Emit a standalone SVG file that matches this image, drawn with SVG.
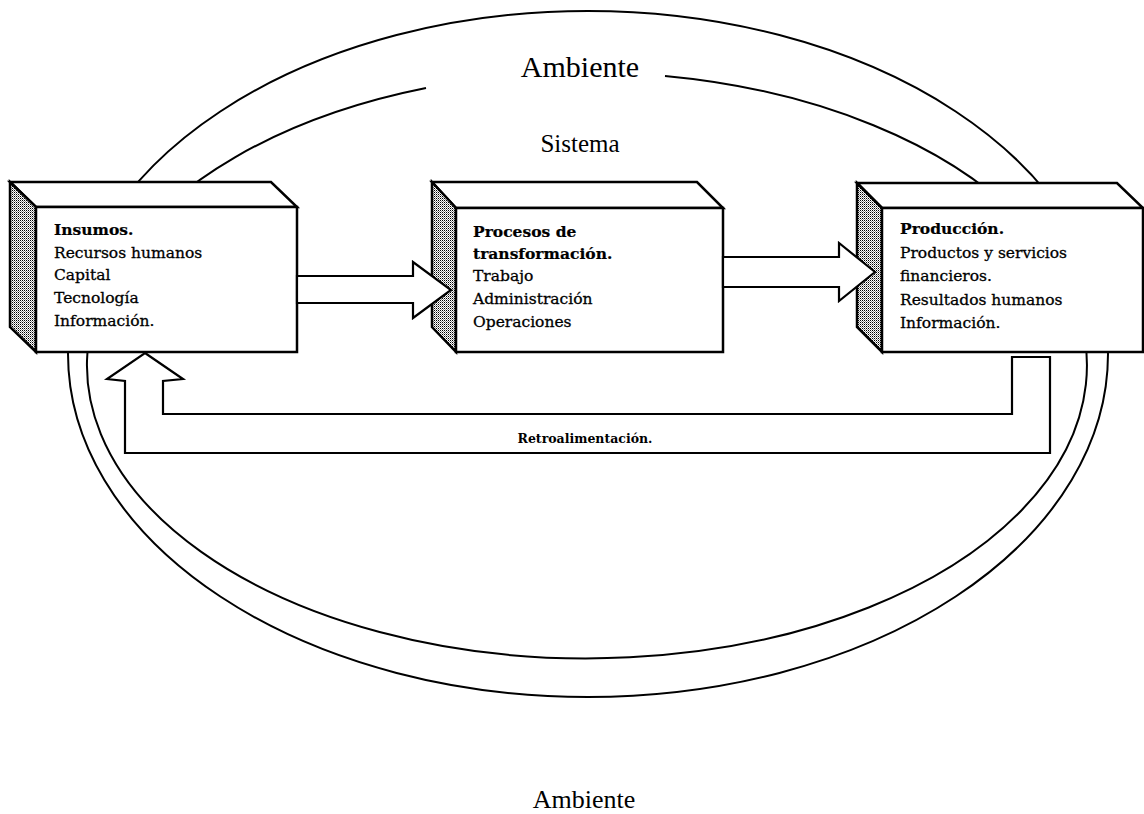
<svg xmlns="http://www.w3.org/2000/svg" width="1144" height="814" viewBox="0 0 1144 814">
  <style>
    .line { fill: none; stroke: #000; stroke-width: 2; }
    .face { fill: #fff; stroke: #000; stroke-width: 2.5; stroke-linejoin: miter; }
    .side { fill: url(#stipple); stroke: #000; stroke-width: 2.5; }
    .arrow { fill: #fff; stroke: #000; stroke-width: 2.2; stroke-linejoin: miter; }
    .title { font-family: "Liberation Serif", "Times New Roman", serif; fill: #000; text-anchor: middle; }
    .body { font-family: "DejaVu Serif", "Liberation Serif", serif; font-size: 15.5px; fill: #000; stroke: #000; stroke-width: 0.3; }
    .bold { font-weight: bold; stroke-width: 0.2; }
  </style>
  <defs>
    <!-- dithered grey used on the shaded side faces -->
    <pattern id="stipple" width="2" height="2" patternUnits="userSpaceOnUse">
      <rect width="2" height="2" fill="#fff"/>
      <rect x="0" y="0" width="1" height="1" fill="#000"/>
      <rect x="1" y="1" width="1" height="1" fill="#8a8a8a"/>
    </pattern>
  </defs>

  <!-- environment and system boundaries -->
  <g id="boundaries">
    <ellipse class="line" cx="588" cy="354" rx="520" ry="343"/>
    <path class="line" d="M426,88 A500,293 0 1 0 665,76"/>
  </g>

  <text class="title" x="580" y="77" font-size="30">Ambiente</text>
  <text class="title" x="580" y="152" font-size="25">Sistema</text>
  <text class="title" x="584" y="808" font-size="26">Ambiente</text>

  <!-- stage: inputs -->
  <g id="insumos">
    <polygon class="face" points="10,182 271,182 297,207 36,207"/>
    <polygon class="side" points="10,182 36,207 36,352 10,327"/>
    <rect class="face" x="36" y="207" width="261" height="145"/>
    <text class="body bold" x="54" y="235">Insumos.</text>
    <text class="body" x="54" y="258">Recursos humanos</text>
    <text class="body" x="54" y="280">Capital</text>
    <text class="body" x="54" y="303">Tecnología</text>
    <text class="body" x="54" y="326">Información.</text>
  </g>

  <!-- stage: transformation -->
  <g id="procesos">
    <polygon class="face" points="432,182 697,182 723,208 456,208"/>
    <polygon class="side" points="432,182 456,208 456,352 432,327"/>
    <rect class="face" x="456" y="208" width="267" height="144"/>
    <text class="body bold" x="473" y="237">Procesos de</text>
    <text class="body bold" x="473" y="259">transformación.</text>
    <text class="body" x="473" y="281">Trabajo</text>
    <text class="body" x="473" y="304">Administración</text>
    <text class="body" x="473" y="327">Operaciones</text>
  </g>

  <!-- stage: output -->
  <g id="produccion">
    <polygon class="face" points="857,183 1117,183 1143,208 882,208"/>
    <polygon class="side" points="857,183 882,208 882,352 857,327"/>
    <rect class="face" x="882" y="208" width="261" height="144"/>
    <text class="body bold" x="900" y="234">Producción.</text>
    <text class="body" x="900" y="258">Productos y servicios</text>
    <text class="body" x="900" y="281">financieros.</text>
    <text class="body" x="900" y="305">Resultados humanos</text>
    <text class="body" x="900" y="328">Información.</text>
  </g>

  <!-- flows between the stages, drawn over the shaded faces -->
  <g id="connectors">
    <polygon class="arrow" points="297,276 413,276 413,262 451,290 413,318 413,303 297,303"/>
    <polygon class="arrow" points="723,257 839,257 839,243 875,272 839,301 839,287 723,287"/>
    <polygon class="arrow" points="145,353 183,379 163,381 163,414 1012,414 1012,357 1050,357 1050,453 125,453 125,381 107,379"/>
    <text x="585" y="443" font-family="DejaVu Serif, Liberation Serif, serif" font-size="12.5" font-weight="bold" text-anchor="middle">Retroalimentación.</text>
  </g>
</svg>
